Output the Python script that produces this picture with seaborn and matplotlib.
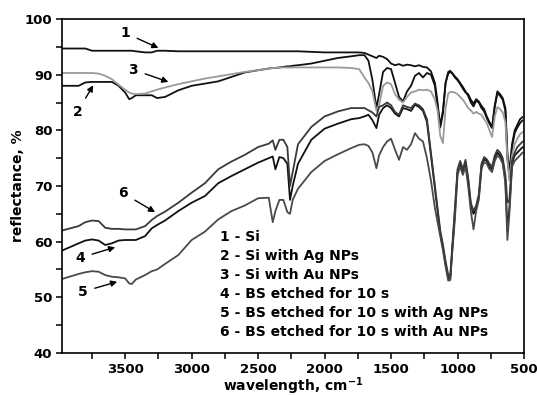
import numpy as np
import pandas as pd
import matplotlib
matplotlib.use("Agg")
import matplotlib.pyplot as plt
import seaborn as sns

wavenumber = [3975, 3850, 3800, 3750, 3700, 3650, 3600, 3550, 3500, 3470, 3450, 3420, 3350, 3300, 3260, 3200,
              3100, 3000, 2900, 2800, 2700, 2600, 2500, 2420, 2390, 2370, 2340, 2310, 2280, 2260, 2240, 2200,
              2100, 2000, 1900, 1800, 1740, 1700, 1670, 1640, 1610, 1590, 1560, 1530, 1500, 1470, 1440, 1410,
              1380, 1350, 1320, 1290, 1260, 1230, 1200, 1170, 1150, 1130, 1110, 1090, 1070, 1055, 1040, 1020,
              1000, 980, 960, 940, 920, 900, 880, 860, 840, 820, 800, 780, 760, 740, 720, 700,
              680, 660, 640, 625, 610, 590, 570, 550, 530, 510]

si = [94.7, 94.7, 94.7, 94.3, 94.3, 94.3, 94.3, 94.3, 94.3, 94.3, 94.3, 94.2, 94.0, 94.0, 94.3, 94.3,
      94.2, 94.2, 94.2, 94.2, 94.2, 94.2, 94.2, 94.2, 94.2, 94.2, 94.2, 94.2, 94.2, 94.2, 94.2, 94.2,
      94.1, 94.0, 94.0, 94.0, 94.0, 93.9, 93.6, 93.3, 93.0, 93.4, 93.2, 92.8, 92.0, 91.7, 91.9, 91.6,
      91.8, 91.7, 91.5, 91.7, 91.4, 91.3, 90.6, 88.5, 85.0, 80.5, 83.0, 88.5, 90.2, 90.5, 90.2, 89.5,
      89.0, 88.3, 87.5, 86.8, 86.5, 85.5, 84.8, 85.6, 85.2, 84.4, 83.8, 82.5, 81.5, 80.6, 84.5, 87.0,
      86.5, 85.8, 84.0, 76.0, 72.5, 77.5, 80.0, 81.0, 82.0, 82.4]

si_ag = [88.0, 88.0, 88.6, 88.7, 88.7, 88.7, 88.7, 88.0, 86.8, 85.6, 85.8, 86.3, 86.3, 86.3, 85.8, 86.0,
         87.2, 88.0, 88.4, 88.8, 89.6, 90.4, 90.8, 91.1, 91.2, 91.2, 91.3, 91.4, 91.5, 91.5, 91.6, 91.7,
         92.0, 92.5, 93.0, 93.3, 93.5, 93.5, 92.5, 89.0, 84.0, 86.5, 90.5, 91.2, 91.0, 88.5, 86.0, 85.2,
         87.0, 88.0, 89.8, 90.3, 89.5, 90.3, 90.0, 88.0, 84.0, 81.0, 83.5, 88.5, 90.5, 90.7, 90.3, 89.7,
         89.2, 88.5, 87.8, 87.0, 86.2, 85.0, 84.3, 85.3, 85.0, 84.0, 83.4, 82.2, 81.2, 80.4, 84.2, 86.7,
         86.2, 85.5, 83.5, 75.0, 71.5, 77.0, 79.5, 80.5, 81.3, 81.8]

si_au = [90.3, 90.3, 90.3, 90.3, 90.2, 89.8, 89.2, 88.2, 87.3, 86.8, 86.6, 86.5, 86.6, 87.0, 87.3, 87.7,
         88.3, 88.8, 89.3, 89.7, 90.1, 90.5, 90.8, 91.1, 91.2, 91.2, 91.3, 91.3, 91.3, 91.3, 91.3, 91.3,
         91.3, 91.3, 91.3, 91.2, 91.0, 89.5, 88.5, 87.0, 83.5, 84.5, 88.0, 88.6, 88.3, 86.5, 85.5, 85.0,
         86.0, 86.8, 87.0, 87.3, 87.2, 87.3, 87.0, 85.5, 83.5, 79.0, 77.7, 84.0, 86.6, 86.9, 86.9, 86.8,
         86.5, 86.0, 85.5, 84.8, 84.0, 83.6, 83.0, 83.3, 83.0, 82.8, 82.0, 81.3, 80.0, 78.8, 82.5, 84.2,
         83.8, 83.2, 81.5, 75.0, 71.0, 75.5, 77.5, 78.5, 79.3, 79.7]

bs = [58.4, 59.7, 60.2, 60.4, 60.2, 59.4, 59.7, 60.2, 60.3, 60.3, 60.3, 60.3, 61.0, 62.4, 63.0, 63.8,
      65.5, 67.0, 68.2, 70.5, 71.8, 73.0, 74.2, 75.0, 75.3, 73.0, 75.2, 75.0, 74.0, 67.5, 70.0, 74.0,
      78.3, 80.3, 81.2, 82.0, 82.2, 82.5, 82.8, 81.8, 80.4, 82.8, 84.0, 84.5, 84.0, 83.0, 82.5, 84.0,
      83.8, 83.5, 84.6, 84.2, 83.5, 81.5, 75.5, 69.5, 65.5, 61.5, 59.0, 56.0, 53.5, 53.2, 58.5, 65.0,
      72.5, 74.0, 72.5, 74.2, 71.0, 66.5, 65.0, 66.0, 68.0, 73.5, 74.8, 74.5, 73.5, 73.0, 75.0, 76.0,
      75.5, 74.5, 71.0, 62.0, 66.0, 74.0, 75.5, 76.0, 76.5, 77.0]

bs_ag = [53.3, 54.2, 54.5, 54.7, 54.6, 54.0, 53.7, 53.6, 53.4, 52.5, 52.4, 53.2, 54.0, 54.7, 55.0, 56.0,
         57.6, 60.3, 61.8, 64.0, 65.5, 66.5, 67.8, 67.9, 63.5, 65.5, 67.5, 67.5, 65.3, 65.0, 67.5, 69.5,
         72.5, 74.5, 75.7, 76.8, 77.4, 77.5, 77.2, 76.0, 73.2, 75.5, 77.0, 78.0, 78.5, 76.5, 74.7, 77.0,
         76.5, 77.5, 79.5, 78.5, 78.0, 75.0, 71.0, 66.0, 63.5, 61.0, 58.5, 55.5, 53.0, 53.1, 58.0, 64.0,
         72.0, 73.5, 72.0, 73.5, 70.0, 65.5, 62.2, 65.5, 67.5, 73.0, 74.3, 74.0, 73.0, 72.5, 74.5, 75.5,
         75.0, 74.0, 70.5, 60.3, 65.0, 73.5, 74.5, 75.0, 75.5, 76.0]

bs_au = [62.0, 62.8, 63.5, 63.8, 63.7, 62.5, 62.3, 62.3, 62.2, 62.2, 62.2, 62.2, 62.8, 63.9, 64.6, 65.4,
         67.0, 68.8, 70.5, 73.0, 74.4, 75.6, 77.0, 77.6, 78.2, 76.5, 78.3, 78.3, 77.0, 70.0, 72.5, 77.5,
         80.6, 82.5, 83.4, 84.0, 84.0, 84.0, 83.6, 83.2, 82.5, 84.2, 84.5, 85.0, 84.5, 83.3, 82.8, 84.5,
         84.2, 84.0, 84.8, 84.5, 83.8, 82.0, 76.0, 70.0, 66.0, 62.0, 59.5, 56.5, 54.0, 53.8, 59.0, 66.0,
         73.0, 74.5, 73.0, 74.7, 71.5, 67.0, 65.5, 66.5, 68.5, 74.0, 75.2, 74.8, 74.0, 73.5, 75.5, 76.5,
         76.0, 75.0, 72.0, 67.0, 67.5, 74.5, 76.0, 77.0, 77.5, 78.0]

legend_lines = ["1 - Si", "2 - Si with Ag NPs", "3 - Si with Au NPs", "4 - BS etched for 10 s",
                "5 - BS etched for 10 s with Ag NPs", "6 - BS etched for 10 s with Au NPs"]

series = [("1", si, "#111111"), ("2", si_ag, "#111111"), ("3", si_au, "#9a9a9a"),
          ("4", bs, "#111111"), ("5", bs_ag, "#4a4a4a"), ("6", bs_au, "#3a3a3a")]

sns.set_style("ticks")
plt.rcParams['font.family'] = ['DejaVu Sans']
plt.rcParams['font.weight'] = 'bold'
plt.rcParams['mathtext.default'] = 'bf'
plt.rcParams['text.color'] = 'black'
plt.rcParams['axes.labelcolor'] = 'black'
plt.rcParams['xtick.color'] = 'black'
plt.rcParams['ytick.color'] = 'black'

fig = plt.figure(figsize=(5.37, 3.96), dpi=100)
ax = fig.add_axes([0.1155, 0.1086, 0.8603, 0.8434])

for name, vals, col in series:
    df = pd.DataFrame({"wavenumber": wavenumber, "reflectance": vals})
    sns.lineplot(data=df, x="wavenumber", y="reflectance", color=col, lw=1.3,
                 estimator=None, sort=False, ax=ax)

ax.set_xlim(3975, 500)
ax.set_ylim(40, 100)
ax.set_xticks([3500, 3000, 2500, 2000, 1500, 1000, 500])
ax.set_xticks([3750, 3250, 2750, 2250, 1750, 1250, 750], minor=True)
ax.set_yticks([40, 50, 60, 70, 80, 90, 100])
ax.set_yticks([45, 55, 65, 75, 85, 95], minor=True)
ax.tick_params(which='both', direction='out', length=4, width=1.1, top=False, right=False,
               labelsize=9.5, color='black', labelcolor='black', pad=3)
for lab in ax.get_xticklabels() + ax.get_yticklabels():
    lab.set_fontweight('bold')
for s in ax.spines.values():
    s.set_visible(True)
    s.set_linewidth(1.2)
    s.set_color('black')

ax.set_xlabel(r'wavelength, cm$^{\mathbf{-1}}$', fontsize=10, fontweight='bold', labelpad=0, color='black')
ax.set_ylabel('reflectance, %', fontsize=10, fontweight='bold', labelpad=0, color='black')

ann = [("1", (3250, 94.8), (3500, 97.5)),
       ("3", (3175, 88.7), (3440, 90.9)),
       ("2", (3740, 88.1), (3860, 83.3)),
       ("6", (3275, 65.3), (3515, 68.7)),
       ("4", (3575, 59.0), (3840, 57.1)),
       ("5", (3560, 52.8), (3820, 51.0))]
for t, xy, xyt in ann:
    ax.annotate(t, xy=xy, xytext=xyt, fontsize=10, fontweight='bold', ha='center', va='center',
                color='black',
                arrowprops=dict(arrowstyle='-|>', color='black', lw=1.0, mutation_scale=9,
                                shrinkA=3, shrinkB=0))

y0 = 60.9
for i, line in enumerate(legend_lines):
    ax.text(2790, y0 - i * 3.42, line, fontsize=10, fontweight='bold', ha='left', va='center',
            color='black')

fig.savefig("out.png", dpi=100)
